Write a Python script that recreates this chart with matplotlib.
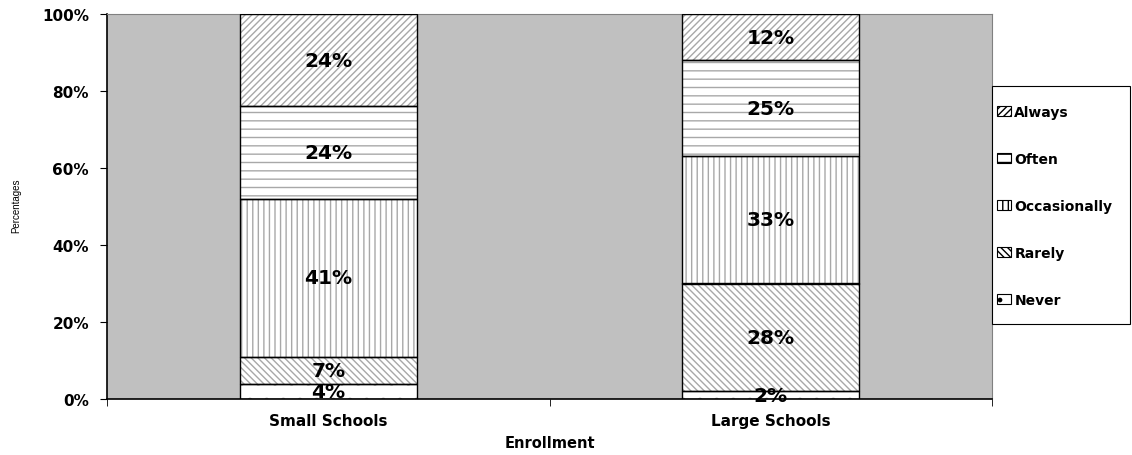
import numpy as np
import matplotlib
matplotlib.use("Agg")
import matplotlib.pyplot as plt
from matplotlib.patches import Patch, Rectangle
from matplotlib.ticker import FuncFormatter, FixedLocator

plt.rcParams['font.family'] = ['DejaVu Sans']
plt.rcParams['hatch.linewidth'] = 1.0

# data
schools = ["Small Schools", "Large Schools"]
levels = ["Never", "Rarely", "Occasionally", "Often", "Always"]
never = [4, 2]
rarely = [7, 28]
occasionally = [41, 33]
often = [24, 25]
always = [24, 12]
series = [never, rarely, occasionally, often, always]
hatches = ['.', '\\\\\\\\\\', '|||', '--', '/////']

W, H = 1132, 456
fig = plt.figure(figsize=(W / 100, H / 100), dpi=100)
ax = fig.add_axes([107 / W, 1 - 400 / H, 885 / W, 385 / H])
ax.set_facecolor('#c0c0c0')

x = np.arange(len(schools))
bottom = np.zeros(len(schools))
for vals, h in zip(series, hatches):
    vals = np.array(vals)
    # hatch in grey, then outline in black
    ax.bar(x, vals, 0.4, bottom=bottom, color='white', edgecolor='#a8a8a8',
           hatch=h, linewidth=0, zorder=2)
    ax.bar(x, vals, 0.4, bottom=bottom, fill=False, edgecolor='black',
           linewidth=1.0, zorder=3)
    for xi, v, b in zip(x, vals, bottom):
        ax.text(xi, b + v / 2, f"{v}%", ha='center', va='center',
                fontsize=14.5, fontweight='bold', zorder=4)
    bottom += vals

ax.set_xlim(-0.5, 1.5)
ax.set_ylim(0, 100)
ax.yaxis.set_major_locator(FixedLocator([0, 20, 40, 60, 80, 100]))
ax.yaxis.set_major_formatter(FuncFormatter(lambda v, p: f"{int(v)}%"))
ax.set_xticks(x)
ax.set_xticklabels(schools, fontsize=11, fontweight='bold')
ax.tick_params(axis='x', length=0, pad=10)
ax.set_xticks([-0.5, 0.5, 1.5], minor=True)
ax.tick_params(axis='x', which='minor', length=5, direction='out')
ax.tick_params(axis='y', length=5, direction='out', labelsize=11, pad=8)
for lab in ax.get_yticklabels():
    lab.set_fontweight('bold')

ax.spines['top'].set_color('#808080')
ax.spines['right'].set_color('#808080')
ax.spines['left'].set_linewidth(1.2)
ax.spines['bottom'].set_linewidth(1.2)

fig.text(549.5 / W, 1 - 444 / H, "Enrollment", ha='center', va='center',
         fontsize=10.5, fontweight='bold')
fig.text(16 / W, 1 - 206 / H, "Percentages", ha='center', va='center',
         rotation=90, fontsize=7, family='Liberation Sans')

# legend box drawn separately so its padding can be set freely
fig.patches.append(Rectangle((992 / W, 1 - 325 / H), 138 / W, 238 / H,
                             transform=fig.transFigure, facecolor='white',
                             edgecolor='black', linewidth=0.8, zorder=1))
handles = [Patch(facecolor='white', edgecolor='black', hatch=h, linewidth=0.8)
           for h in hatches]
leg = fig.legend(handles[::-1], levels[::-1], loc='upper left',
                 bbox_to_anchor=(997 / W, 1 - 105.5 / H),
                 prop={'weight': 'bold', 'size': 10}, frameon=False,
                 handlelength=1.0, handleheight=0.7, handletextpad=0.25,
                 labelspacing=2.38, borderpad=0, borderaxespad=0)

fig.savefig("out.png", dpi=100)
